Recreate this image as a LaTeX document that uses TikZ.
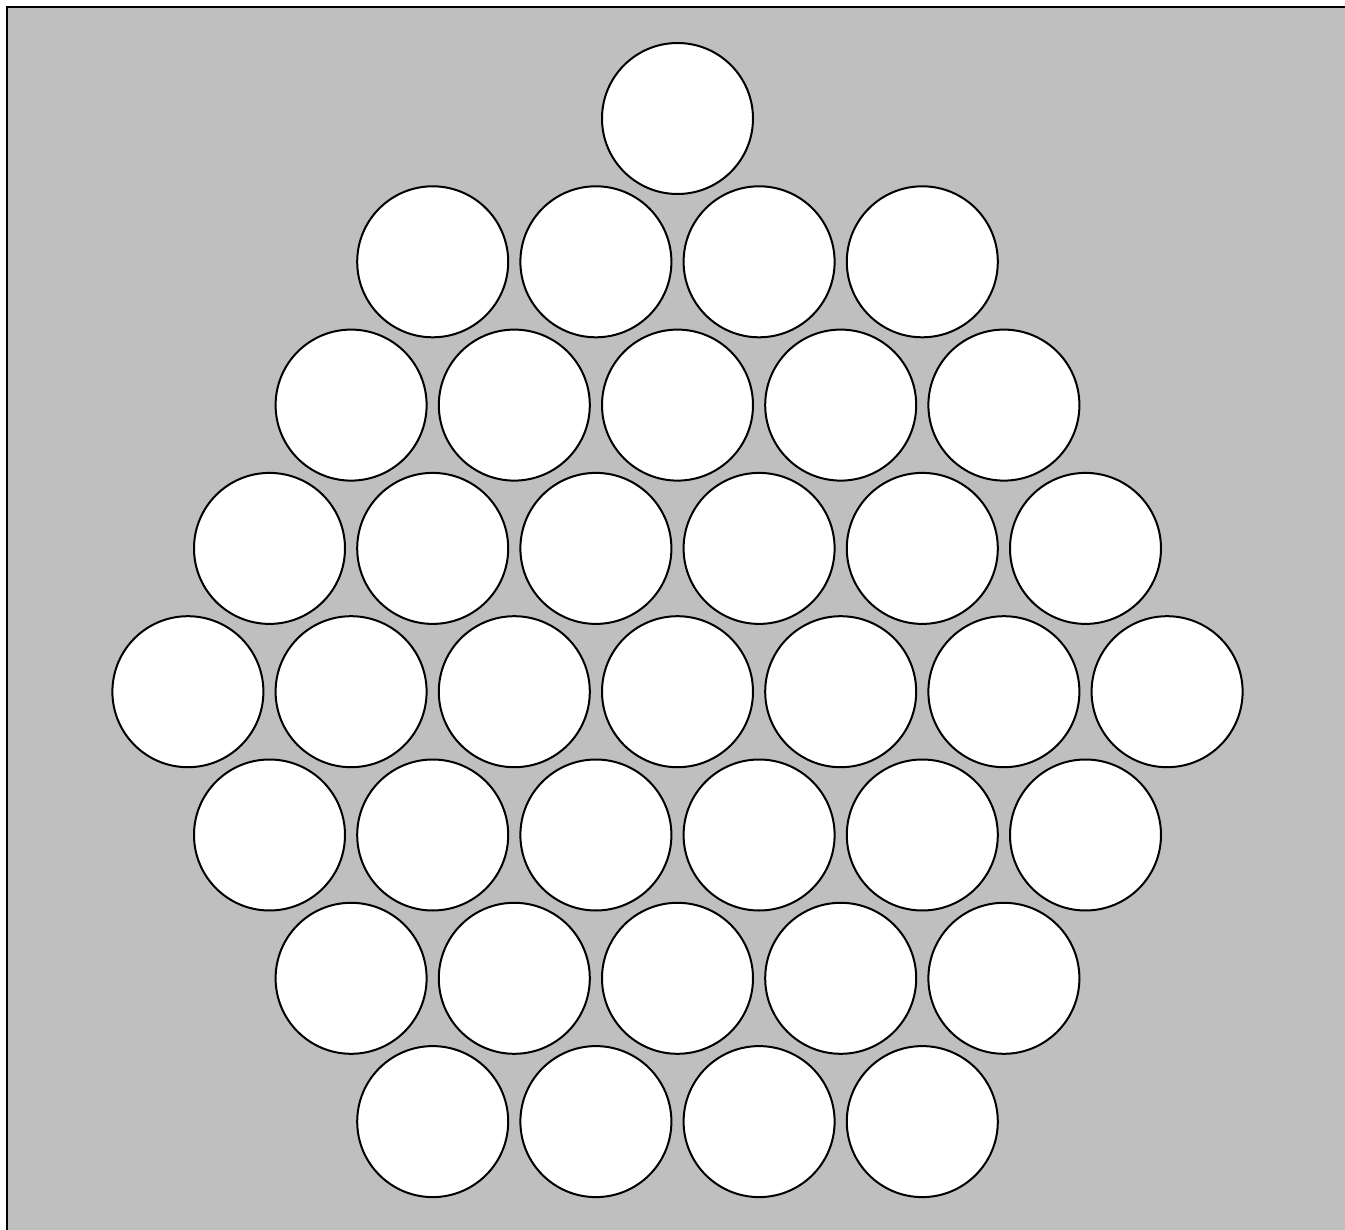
\documentclass[tikz,border=0pt]{standalone}
\begin{document}
\begin{tikzpicture}[x=1pt,y=-1pt,
  ball/.style={circle,draw=black,fill=white,line width=2pt,minimum size=151pt,inner sep=0pt}]
\useasboundingbox (0,0) rectangle (1345,1230);
\fill[lightgray] (7,7) rectangle (1345,1230);
\draw[line width=2.5pt] (7,1230) -- (7,7) -- (1345,7);
\def\dx{163.2}
\def\dy{143.3}
\def\cx{677.5}
\def\cy{118.5}
% top single
\node[ball] (c-0-0) at (\cx,\cy) {};
% rows: row index, count
\foreach \r/\n in {1/4,2/5,3/6,4/7,5/6,6/5,7/4}{
  \foreach \i in {1,...,\n}{
    \node[ball] (c-\r-\i) at ({\cx+(\i-(\n+1)/2)*\dx},{\cy+\r*\dy}) {};
  }
}
\end{tikzpicture}
\end{document}
